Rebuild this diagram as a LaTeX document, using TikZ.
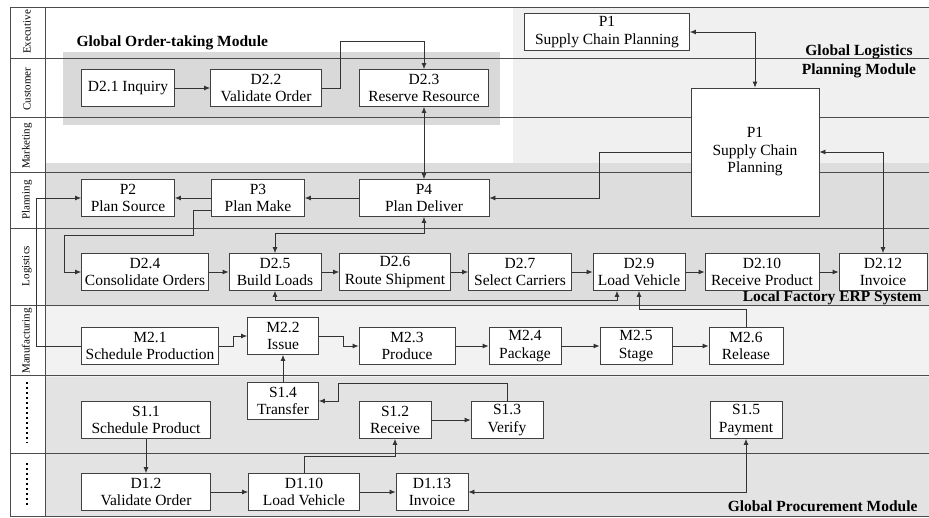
\documentclass[tikz,border=0pt]{standalone}
\usepackage{fontspec}
\setmainfont{Liberation Serif}
\usetikzlibrary{arrows.meta}
\begin{document}
\begin{tikzpicture}[>={Latex[length=6pt,width=5pt]},x=1pt,y=-1pt,
  box/.style={draw=black!75,fill=white,line width=0.8pt,align=center,inner sep=0pt,
    minimum height=37pt,font=\fontsize{15.5}{17.5}\selectfont},
  lane/.style={rotate=90,font=\fontsize{11}{12}\selectfont},
  modlabel/.style={font=\fontsize{15.5}{19}\selectfont\bfseries,align=center},
  link/.style={->,line width=0.8pt,black!80},
  both/.style={<->,line width=0.8pt,black!80},
  laneline/.style={line width=0.8pt,black!70}]
\useasboundingbox (0,0) rectangle (929,517);
% shaded modules
\fill[gray!12] (513,7) rectangle (929,163);
\fill[gray!27] (45,163) rectangle (929,305);
\fill[gray!10] (45,305) rectangle (929,377);
\fill[gray!22] (45,377) rectangle (929,517);
\fill[gray!30] (63,52) rectangle (500,125);
% lanes
\foreach \y in {7,58,117,172,228,305,375,453,516}
  \draw[laneline] (10,\y) -- (929,\y);
\draw[laneline] (10,7) -- (10,516);
\draw[laneline] (45,7) -- (45,516);
\node[lane] (exe) at (27,32) {Executive};
\node[lane] (cus) at (27,89) {Customer};
\node[lane] (mkt) at (27,146) {Marketing};
\node[lane] (pln) at (27,200) {Planning};
\node[lane] (lgs) at (27,266) {Logistics};
\node[lane] (mfg) at (27,341) {Manufacturing};
\draw[line width=1.6pt,dash pattern=on 1.6pt off 3.4pt] (27,382) -- (27,443);
\draw[line width=1.6pt,dash pattern=on 1.6pt off 3.4pt] (27,463) -- (27,507);
% module labels
\node[modlabel,anchor=west] (otm) at (73,43) {Global Order-taking Module};
\node[modlabel] (glp) at (859,61) {Global Logistics\\Planning Module};
\node[modlabel,anchor=east] (erp) at (925,298) {Local Factory ERP System};
\node[modlabel,anchor=east] (gpm) at (921,506) {Global Procurement Module};
% processes
\node[box,minimum width=165pt] (p1a) at (607,32) {P1\\Supply Chain Planning};
\node[box,minimum width=93pt] (d21) at (128,88) {D2.1 Inquiry};
\node[box,minimum width=111pt] (d22) at (266,88) {D2.2\\Validate Order};
\node[box,minimum width=129pt] (d23) at (424,88) {D2.3\\Reserve Resource};
\node[box,minimum width=128pt,minimum height=128pt] (p1b) at (755,152) {P1\\Supply Chain\\Planning};
\node[box,minimum width=93pt] (p2) at (128,198) {P2\\Plan Source};
\node[box,minimum width=93pt] (p3) at (258,198) {P3\\Plan Make};
\node[box,minimum width=130pt] (p4) at (424,198) {P4\\Plan Deliver};
\node[box,minimum width=127pt] (d24) at (145,272) {D2.4\\Consolidate Orders};
\node[box,minimum width=92pt] (d25) at (275,272) {D2.5\\Build Loads};
\node[box,minimum width=111pt] (d26) at (395,272) {D2.6\\Route Shipment};
\node[box,minimum width=103pt] (d27) at (520,272) {D2.7\\Select Carriers};
\node[box,minimum width=92pt] (d29) at (639,272) {D2.9\\Load Vehicle};
\node[box,minimum width=114pt] (d210) at (762,272) {D2.10\\Receive Product};
\node[box,minimum width=88pt] (d212) at (883,272) {D2.12\\Invoice};
\node[box,minimum width=137pt] (m21) at (150,346) {M2.1\\Schedule Production};
\node[box,minimum width=71pt] (m22) at (283,336) {M2.2\\Issue};
\node[box,minimum width=96pt] (m23) at (407,346) {M2.3\\Produce};
\node[box,minimum width=72pt] (m24) at (525,346) {M2.4\\Package};
\node[box,minimum width=72pt] (m25) at (636,346) {M2.5\\Stage};
\node[box,minimum width=74pt] (m26) at (746,346) {M2.6\\Release};
\node[box,minimum width=71pt] (s14) at (283,401) {S1.4\\Transfer};
\node[box,minimum width=129pt] (s11) at (146,420) {S1.1\\Schedule Product};
\node[box,minimum width=72pt] (s12) at (395,420) {S1.2\\Receive};
\node[box,minimum width=72pt] (s13) at (507,420) {S1.3\\Verify};
\node[box,minimum width=72pt] (s15) at (746,420) {S1.5\\Payment};
\node[box,minimum width=129pt] (d12) at (146,492) {D1.2\\Validate Order};
\node[box,minimum width=111pt] (d110) at (304,492) {D1.10\\Load Vehicle};
\node[box,minimum width=72pt] (d113) at (432,492) {D1.13\\Invoice};
% order taking
\draw[link] (d21) -- (d22);
\draw[link] (d22.east) -| (340,41) -| (d23.north);
\draw[both] (d23.south) -- (p4.north);
% global planning
\draw[both] (p1a.east) -| (p1b.north);
\draw[link] (p1b.west) -- (599,152) |- (p4.east);
\draw[both] (p1b.east) -| (d212.north);
% local planning
\draw[link] (p4) -- (p3);
\draw[link] (p3) -- (p2);
\draw[link] (p3.west |- 0,210) -| (193,235) -| (64,272) -- (d24.west);
\draw[both] (d25.north) |- (424,233) -- (p4.south);
\draw[link] (m21.west) -- (36,346) |- (p2.west);
% logistics
\draw[link] (d24) -- (d25);
\draw[link] (d25) -- (d26);
\draw[link] (d26) -- (d27);
\draw[link] (d27) -- (d29);
\draw[link] (d29) -- (d210);
\draw[link] (d210) -- (d212);
\draw[both] (d25.south) |- (617,300) -- (d29.south -| 617,0);
\draw[link] (m26.north) |- (639,309) -- (d29.south);
% manufacturing
\draw[link] (m21.east) -- (233,346) |- (m22.west);
\draw[link] (m22.east) -- (343,336) |- (m23.west);
\draw[link] (m23) -- (m24);
\draw[link] (m24) -- (m25);
\draw[link] (m25) -- (m26);
% procurement
\draw[link] (s14) -- (m22);
\draw[link] (s13.north) |- (338,383) |- (s14.east);
\draw[link] (s12) -- (s13);
\draw[link] (d110.north) |- (395,456) -- (s12.south);
\draw[link] (s11) -- (d12);
\draw[link] (d12) -- (d110);
\draw[link] (d110) -- (d113);
\draw[both] (d113.east) -| (s15.south);
\end{tikzpicture}
\end{document}
